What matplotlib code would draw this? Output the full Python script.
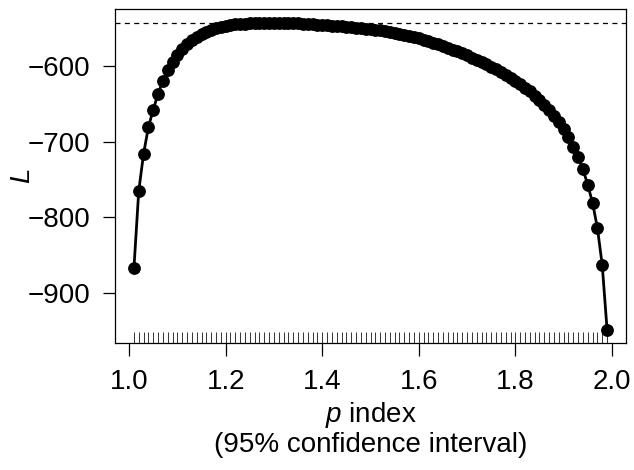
import numpy as np
import matplotlib.pyplot as plt
import matplotlib.transforms as mtransforms

plt.rcParams['font.family'] = ['Liberation Sans', 'DejaVu Sans']
plt.rcParams['mathtext.fontset'] = 'custom'
plt.rcParams['mathtext.it'] = 'Liberation Sans:italic'

# p index values and profile log-likelihood
p_vals = [round(1.01 + 0.01 * i, 2) for i in range(99)]
L_vals = [
    -867, -765, -716, -681, -658, -637, -620, -606, -595, -586,
    -578, -572, -566.5, -562, -558, -555, -552.5, -550.5, -549, -547.5,
    -546.5, -545.7, -545, -544.5, -544.1, -543.8, -543.6, -543.5, -543.4, -543.4,
    -543.5, -543.6, -543.8, -544.0, -544.3, -544.6, -545.0, -545.4, -545.8, -546.2,
    -546.7, -547.2, -547.7, -548.2, -548.8, -549.4, -550.0, -550.7, -551.4, -552.1,
    -552.8, -553.6, -554.4, -555.2, -556.5, -557.8, -559.2, -560.7, -562.3, -564.0,
    -565.8, -567.7, -569.7, -571.8, -574.0, -576.3, -578.7, -581.2, -583.8, -586.5,
    -589.3, -592.2, -595.2, -598.3, -601.5, -604.8, -608.3, -612.0, -616.0, -620.0,
    -624.5, -629.0, -634.0, -639.5, -645.5, -652.0, -659.0, -666.0, -674.0, -683.4,
    -694.4, -706.8, -720.8, -736.6, -757.0, -781.0, -814.0, -863.0, -948.0,
]
L_max = max(L_vals)

x_ticks = [1.0, 1.2, 1.4, 1.6, 1.8, 2.0]
y_ticks = [-900, -800, -700, -600]

fig = plt.figure(figsize=(6.34, 4.70), dpi=100)
ax = fig.add_axes([115 / 634, 1 - 343 / 470, (626 - 115) / 634, (343 - 9) / 470])

ax.plot(p_vals, L_vals, color='black', lw=2.0, marker='o', ms=8.2, zorder=3)
ax.axhline(L_max, color='black', lw=0.9, ls=(0, (4, 3.5)))

# rug along the bottom
trans = mtransforms.blended_transform_factory(ax.transData, ax.transAxes)
ax.vlines(p_vals, 0, 0.032, transform=trans, color='#333333', lw=0.7)

ax.set_xlim(0.9708, 2.0292)
ax.set_ylim(-965.5, -525.3)
ax.set_xticks(x_ticks)
ax.set_xticklabels(['%.1f' % v for v in x_ticks])
ax.set_yticks(y_ticks)
ax.set_yticklabels(['\u2212%d' % abs(v) for v in y_ticks])
ax.tick_params(direction='out', length=9, width=0.9, labelsize=20)
ax.tick_params(axis='x', pad=10)
ax.tick_params(axis='y', pad=9)

for s in ax.spines.values():
    s.set_linewidth(0.9)

ax.set_ylabel('$L$', fontsize=20)
ax.yaxis.set_label_coords(-79 / 511, 0.5)
ax.set_xlabel('$p$ index\n(95% confidence interval)', fontsize=20,
              linespacing=1.1)
ax.xaxis.label.set_va('bottom')
ax.xaxis.set_label_coords(0.5, -(458 - 343) / 334)

fig.savefig('out.png', dpi=100)
